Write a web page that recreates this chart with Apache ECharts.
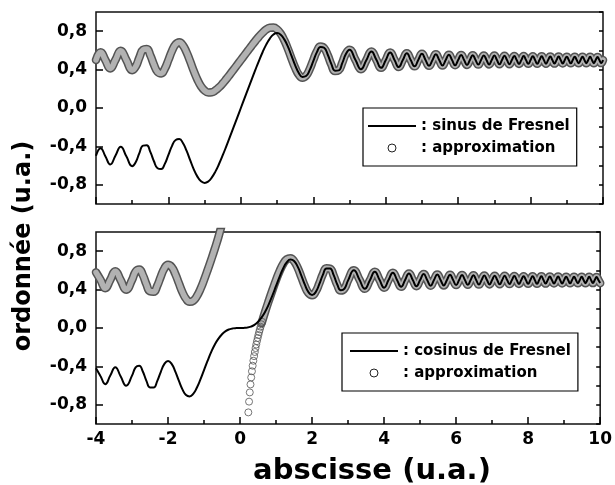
<!DOCTYPE html>
<html>
<head>
<meta charset="utf-8">
<script src="https://cdn.jsdelivr.net/npm/echarts@6/dist/echarts.min.js"></script>
<style>
  html,body{margin:0;padding:0;background:#fff;}
  #chart{width:615px;height:485px;}
</style>
</head>
<body>
<div id="chart"></div>
<script>
"use strict";

// x positions (the far left, the middle part, the fast tail)
const xHead=[-4,-3.873,-3.742,-3.606,-3.464,-3.317,-3.162,-3];
const xCore=[-2.9,-2.8,-2.7,-2.6,-2.5,-2.4,-2.3,-2.2,-2.1,-2,-1.9,-1.8,-1.7,-1.6,-1.5,-1.4,-1.3,-1.2,-1.1,-1,
  -0.9,-0.8,-0.7,-0.6,-0.5,-0.4,-0.3,-0.2,-0.1,0,0.1,0.2,0.3,0.4,0.5,0.6,0.7,0.8,0.9,1,
  1.1,1.2,1.3,1.4,1.5,1.6,1.7,1.8,1.9,2,2.1,2.2,2.3,2.4,2.5,2.6,2.7,2.8,2.9];
const xTail=[3,3.162,3.317,3.464,3.606,3.742,3.873,4,4.123,4.243,4.359,4.472,4.583,4.690,4.796,4.899,
  5,5.099,5.196,5.292,5.385,5.477,5.568,5.657,5.745,5.831,5.916,6,6.083,6.164,6.245,6.325,6.403,6.481,
  6.557,6.633,6.708,6.782,6.856,6.928,7,7.071,7.141,7.211,7.280,7.348,7.416,7.483,7.550,7.616,7.681,
  7.746,7.810,7.874,7.937,8,8.062,8.124,8.185,8.246,8.307,8.367,8.426,8.485,8.544,8.602,8.660,8.718,
  8.775,8.832,8.888,8.944,9,9.055,9.110,9.165,9.220,9.274,9.327,9.381,9.434,9.487,9.539,9.592,9.644,
  9.695,9.747,9.798,9.849,9.899,9.950,10];

// top panel : sinus de Fresnel (solid) and its approximation (circles)
const sinHeadY=[-0.498,-0.418,-0.502,-0.588,-0.497,-0.404,-0.503,-0.606];
const sinCoreY=[-0.562,-0.467,-0.392,-0.389,-0.457,-0.555,-0.627,-0.636,-0.582,-0.488,-0.394,-0.334,-0.324,
  -0.365,-0.445,-0.543,-0.639,-0.715,-0.764,-0.780,-0.765,-0.723,-0.660,-0.581,-0.492,-0.397,-0.299,-0.200,
  -0.100,0,0.100,0.200,0.299,0.397,0.492,0.581,0.660,0.723,0.765,0.780,0.764,0.715,0.639,0.543,0.445,0.365,
  0.324,0.334,0.394,0.488,0.582,0.636,0.627,0.555,0.457,0.389,0.392,0.467,0.562];
const sinTailY=[0.606,0.503,0.404,0.497,0.588,0.502,0.418,0.498,0.577,0.501,0.427,0.499,0.570,0.5,0.434,0.5,
  0.564,0.5,0.439,0.5,0.559,0.5,0.443,0.5,0.555,0.5,0.446,0.5,0.552,0.5,0.449,0.5,0.550,0.5,0.452,0.5,
  0.548,0.5,0.454,0.5,0.546,0.5,0.455,0.5,0.544,0.5,0.457,0.5,0.542,0.5,0.459,0.5,0.541,0.5,0.460,0.5,
  0.540,0.5,0.461,0.5,0.538,0.5,0.462,0.5,0.537,0.5,0.463,0.5,0.536,0.5,0.464,0.5,0.535,0.5,0.465,0.5,
  0.535,0.5,0.466,0.5,0.534,0.5,0.467,0.5,0.533,0.5,0.467,0.5,0.532,0.5,0.468,0.5];
const sinApproxHeadY=[0.5,0.582,0.5,0.412,0.5,0.596,0.5,0.394];
const sinApproxCoreY=[0.434,0.528,0.606,0.614,0.549,0.451,0.376,0.360,0.409,0.5,0.596,0.664,0.685,0.653,
  0.581,0.486,0.385,0.296,0.226,0.182,0.162,0.164,0.184,0.216,0.256,0.302,0.351,0.400,0.450,0.5,0.550,
  0.600,0.650,0.698,0.744,0.784,0.817,0.836,0.838,0.818,0.774,0.704,0.615,0.514,0.419,0.347,0.316,0.336,
  0.404,0.5,0.591,0.640,0.624,0.549,0.451,0.386,0.394,0.472,0.566];

// bottom panel : cosinus de Fresnel (solid) and its approximation (circles)
const cosHeadY=[-0.420,-0.502,-0.585,-0.498,-0.408,-0.503,-0.601,-0.496];
const cosCoreY=[-0.410,-0.392,-0.453,-0.550,-0.619,-0.620,-0.553,-0.456,-0.374,-0.343,-0.373,-0.451,-0.549,
  -0.639,-0.698,-0.713,-0.686,-0.623,-0.536,-0.438,-0.340,-0.249,-0.172,-0.111,-0.065,-0.033,-0.014,-0.004,
  -0.001,0,0.001,0.004,0.014,0.033,0.065,0.111,0.172,0.249,0.340,0.438,0.536,0.623,0.686,0.713,0.698,0.639,
  0.549,0.451,0.373,0.343,0.374,0.456,0.553,0.620,0.619,0.550,0.453,0.392,0.410];
const cosTailY=[0.496,0.601,0.503,0.408,0.498,0.585,0.502,0.420,0.499,0.575,0.501,0.429,0.5,0.568,0.5,0.435,
  0.5,0.562,0.5,0.440,0.5,0.558,0.5,0.444,0.5,0.555,0.5,0.447,0.5,0.552,0.5,0.450,0.5,0.549,0.5,0.452,
  0.5,0.547,0.5,0.454,0.5,0.545,0.5,0.456,0.5,0.543,0.5,0.458,0.5,0.542,0.5,0.459,0.5,0.540,0.5,0.460,
  0.5,0.539,0.5,0.461,0.5,0.538,0.5,0.463,0.5,0.537,0.5,0.464,0.5,0.536,0.5,0.464,0.5,0.535,0.5,0.465,
  0.5,0.534,0.5,0.466,0.5,0.534,0.5,0.467,0.5,0.533,0.5,0.468,0.5,0.532,0.5,0.468];
const cosApproxHeadY=[0.580,0.5,0.415,0.5,0.592,0.5,0.399,0.5];
const cosApproxLeftX=[-2.9,-2.8,-2.7,-2.6,-2.5,-2.4,-2.3,-2.2,-2.1,-2,-1.9,-1.8,-1.7,-1.6,-1.5,-1.4,-1.3,
  -1.2,-1.1,-1,-0.9,-0.8,-0.7,-0.6,-0.5];
const cosApproxLeftY=[0.588,0.610,0.552,0.455,0.382,0.377,0.439,0.536,0.621,0.659,0.637,0.565,0.468,0.373,
  0.304,0.273,0.284,0.331,0.406,0.5,0.604,0.713,0.827,0.948,1.088];
const cosApproxRightX=[0.6,0.7,0.8,0.9,1,1.1,1.2,1.3,1.4,1.5,1.6,1.7,1.8,1.9,2,2.1,2.2,2.3,2.4,2.5,2.6,2.7,2.8,2.9];
const cosApproxRightY=[0.052,0.173,0.287,0.396,0.5,0.594,0.669,0.716,0.727,0.696,0.627,0.532,0.435,0.363,
  0.341,0.379,0.464,0.561,0.623,0.618,0.545,0.448,0.390,0.412];
// the separate circles where the approximation climbs steeply
const cosDotsX=[0.21,0.23,0.25,0.27,0.29,0.31,0.33,0.35,0.37,0.39,0.41,0.43,0.45,0.47,0.49,0.51,0.53,0.55,0.57,0.59,0.61];
const cosDotsY=[-1.012,-0.879,-0.767,-0.671,-0.588,-0.515,-0.451,-0.393,-0.341,-0.293,-0.250,-0.209,-0.172,
  -0.137,-0.104,-0.073,-0.043,-0.015,0.013,0.039,0.065];

// axes
const yMajor=[-0.8,-0.4,0,0.4,0.8];
const yMajorLabels=['-0,8','-0,4','0,0','0,4','0,8'];

const FONT='"DejaVu Sans", sans-serif';

function pairs(xs,ys){
  return xs.map(function(x,i){return [x,ys[i]];});
}

function xAxisOf(grid,labels){
  return {
    type:'value',gridIndex:grid,min:-4,max:10,interval:2,
    axisLine:{show:false,onZero:false},
    axisTick:{inside:true,length:7,lineStyle:{color:'#000',width:1.5}},
    minorTick:{show:true,splitNumber:2,length:4,lineStyle:{color:'#000',width:1.5}},
    splitLine:{show:false},
    axisLabel:{show:labels,margin:7,color:'#000',fontFamily:FONT,fontWeight:'bold',fontSize:17,
      formatter:function(v){return String(v);}}
  };
}
function yAxesOf(grid){
  return [{
    type:'value',gridIndex:grid,min:-1,max:1,interval:0.2,
    axisLine:{show:false,onZero:false},splitLine:{show:false},
    axisTick:{inside:true,length:7,customValues:yMajor,lineStyle:{color:'#000',width:1.5}},
    axisLabel:{margin:9,color:'#000',fontFamily:FONT,fontWeight:'bold',fontSize:17,customValues:yMajor,
      formatter:function(v){
        const i=yMajor.findIndex(function(m){return Math.abs(m-v)<1e-6;});
        return i<0?'':yMajorLabels[i];
      }}
  },{
    type:'value',gridIndex:grid,min:-1,max:1,interval:0.2,
    axisLine:{show:false,onZero:false},splitLine:{show:false},axisLabel:{show:false},
    axisTick:{inside:true,length:4,lineStyle:{color:'#000',width:1.5}}
  }];
}

function tube(name,data,xi,yi,clip){
  // overlapping open circles read as a grey band: dark rim + light core
  return [{
    name:name,type:'line',xAxisIndex:xi,yAxisIndex:yi,data:data,smooth:true,symbol:'none',clip:clip,z:2,
    lineStyle:{color:'#545454',width:8.5,cap:'round',join:'round'}
  },{
    name:'_core'+name+xi+data.length,type:'line',xAxisIndex:xi,yAxisIndex:yi,data:data,smooth:true,symbol:'none',clip:clip,z:3,
    lineStyle:{color:'#b2b2b2',width:5.5,cap:'round',join:'round'}
  }];
}

function legendOf(left,top,first,pad){
  return {
    left:left,top:top,orient:'vertical',selectedMode:false,
    data:[{name:first,icon:'path://M0,0 H48 V2 H0 Z',itemStyle:{color:'#000',borderWidth:0}},
      {name:'approximation',icon:'circle',itemStyle:{color:'#fff',borderColor:'#222',borderWidth:1}}],
    formatter:': {name}',
    itemWidth:48,itemHeight:8,itemGap:4,itemTextGap:3,
    padding:pad,borderColor:'#000',borderWidth:1.2,backgroundColor:'#fff',
    textStyle:{color:'#000',fontFamily:FONT,fontWeight:'bold',fontSize:15,lineHeight:18}
  };
}

const sinData=pairs(xHead.concat(xCore,xTail),sinHeadY.concat(sinCoreY,sinTailY));
const sinApprox=pairs(xHead.concat(xCore,xTail),sinApproxHeadY.concat(sinApproxCoreY,sinTailY));
const cosData=pairs(xHead.concat(xCore,xTail),cosHeadY.concat(cosCoreY,cosTailY));
const cosApproxLeft=pairs(xHead.concat(cosApproxLeftX),cosApproxHeadY.concat(cosApproxLeftY));
const cosApproxRight=pairs(cosApproxRightX.concat(xTail),cosApproxRightY.concat(cosTailY));

const chart=echarts.init(document.getElementById('chart'),null,{renderer:'canvas'});

const series=[]
  .concat(tube('approximation',sinApprox,0,0,false))
  .concat([{
    name:'sinus de Fresnel',type:'line',xAxisIndex:0,yAxisIndex:0,data:sinData,smooth:true,symbol:'none',z:4,
    lineStyle:{color:'#000',width:2}
  }])
  .concat(tube('approximation',cosApproxLeft,1,2,true))
  .concat(tube('approximation',cosApproxRight,1,2,false))
  .concat([{
    name:'_dots',type:'scatter',xAxisIndex:1,yAxisIndex:2,data:pairs(cosDotsX,cosDotsY),
    symbol:'circle',symbolSize:7,z:3,
    itemStyle:{color:'rgba(255,255,255,0)',borderColor:'#555',borderWidth:1}
  },{
    name:'cosinus de Fresnel',type:'line',xAxisIndex:1,yAxisIndex:2,data:cosData,smooth:true,symbol:'none',z:4,
    lineStyle:{color:'#000',width:2}
  }]);

chart.setOption({
  animation:false,
  backgroundColor:'#fff',
  grid:[
    {left:96,top:12,width:507,height:192,show:true,borderColor:'#111',borderWidth:1.5,backgroundColor:'transparent'},
    {left:96,top:232,width:507,height:192,show:true,borderColor:'#111',borderWidth:1.5,backgroundColor:'transparent'}
  ],
  xAxis:[xAxisOf(0,false),xAxisOf(1,true)],
  yAxis:yAxesOf(0).concat(yAxesOf(1)),
  legend:[
    legendOf(363,108,'sinus de Fresnel',[9,7,9,5]),
    legendOf(342,333,'cosinus de Fresnel',[9,7,9,8])
  ],
  graphic:[
    {type:'text',x:24,y:246,rotation:Math.PI/2,
      style:{text:'ordonnée (u.a.)',font:'bold 24px '+FONT,fill:'#000',align:'center',verticalAlign:'middle'}},
    {type:'text',x:372,y:471,
      style:{text:'abscisse (u.a.)',font:'bold 29px '+FONT,fill:'#000',align:'center',verticalAlign:'middle'}}
  ],
  series:series
});
</script>
</body>
</html>
